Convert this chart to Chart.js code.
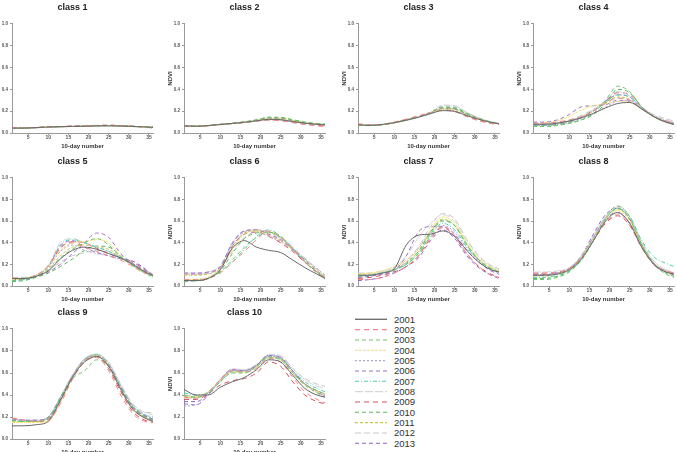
<!DOCTYPE html>
<html>
<head>
<meta charset="utf-8">
<title>NDVI profiles by class</title>
<script src="https://cdn.jsdelivr.net/npm/chart.js@4"></script>
<style>
  body { margin: 0; background: #fff; width: 677px; height: 452px; overflow: hidden; position: relative; font-family: 'Liberation Sans', Arial, sans-serif; }
  canvas.panel { position: absolute; }
  #legend { position: absolute; left: 0; top: 0; }
</style>
</head>
<body>
<svg id="legend" width="677" height="452"></svg>
<script>
// data, one row per year, values at dayPoints
const years = ['2001','2002','2003','2004','2005','2006','2007','2008','2009','2010','2011','2012','2013'];
const dayPoints = [1, 4, 7, 10, 13, 16, 19, 22, 25, 28, 31, 34, 36];
const xTicks = [5, 10, 15, 20, 25, 30, 35];
const yTicks = [0, 0.2, 0.4, 0.6, 0.8, 1.0];
const classNames = ['class 1','class 2','class 3','class 4','class 5','class 6','class 7','class 8','class 9','class 10'];

const ndviClass1 = [
  [0.045,0.045,0.050,0.055,0.058,0.060,0.062,0.065,0.066,0.064,0.060,0.056,0.052],
  [0.050,0.048,0.052,0.056,0.060,0.063,0.066,0.070,0.072,0.068,0.062,0.056,0.048],
  [0.048,0.046,0.050,0.055,0.059,0.061,0.064,0.067,0.069,0.066,0.061,0.057,0.055],
  [0.046,0.045,0.049,0.054,0.058,0.060,0.063,0.066,0.068,0.065,0.060,0.055,0.050],
  [0.044,0.044,0.048,0.053,0.057,0.060,0.062,0.064,0.065,0.063,0.059,0.055,0.051],
  [0.047,0.046,0.050,0.055,0.059,0.062,0.065,0.068,0.070,0.067,0.062,0.057,0.053],
  [0.045,0.045,0.049,0.054,0.058,0.061,0.064,0.066,0.067,0.064,0.060,0.056,0.054],
  [0.043,0.043,0.047,0.052,0.056,0.059,0.061,0.063,0.064,0.062,0.058,0.054,0.050],
  [0.049,0.047,0.051,0.055,0.059,0.062,0.065,0.069,0.071,0.067,0.061,0.055,0.045],
  [0.046,0.045,0.049,0.054,0.058,0.061,0.064,0.067,0.068,0.065,0.061,0.057,0.056],
  [0.047,0.046,0.050,0.054,0.058,0.061,0.063,0.066,0.067,0.064,0.060,0.056,0.052],
  [0.044,0.044,0.048,0.053,0.057,0.060,0.062,0.065,0.066,0.063,0.059,0.055,0.052],
  [0.046,0.045,0.049,0.054,0.058,0.061,0.064,0.067,0.069,0.066,0.061,0.056,0.051]
];
const ndviClass2 = [
  [0.065,0.062,0.068,0.078,0.088,0.098,0.112,0.125,0.122,0.105,0.090,0.080,0.075],
  [0.062,0.060,0.066,0.076,0.086,0.096,0.108,0.118,0.112,0.095,0.078,0.066,0.058],
  [0.064,0.062,0.068,0.079,0.090,0.102,0.120,0.142,0.140,0.118,0.098,0.085,0.080],
  [0.066,0.063,0.069,0.078,0.088,0.099,0.114,0.130,0.128,0.110,0.093,0.082,0.076],
  [0.063,0.061,0.067,0.077,0.087,0.097,0.110,0.120,0.118,0.103,0.089,0.080,0.076],
  [0.065,0.063,0.069,0.079,0.089,0.100,0.116,0.134,0.132,0.112,0.094,0.082,0.076],
  [0.064,0.062,0.068,0.078,0.088,0.098,0.112,0.126,0.124,0.108,0.092,0.082,0.078],
  [0.062,0.060,0.066,0.076,0.086,0.096,0.110,0.124,0.122,0.106,0.090,0.080,0.074],
  [0.063,0.061,0.067,0.077,0.087,0.097,0.110,0.122,0.116,0.098,0.082,0.070,0.062],
  [0.065,0.063,0.069,0.079,0.090,0.102,0.121,0.145,0.144,0.122,0.100,0.086,0.080],
  [0.066,0.064,0.070,0.079,0.089,0.100,0.116,0.136,0.135,0.116,0.096,0.084,0.078],
  [0.063,0.061,0.067,0.077,0.087,0.097,0.111,0.124,0.122,0.106,0.091,0.082,0.077],
  [0.064,0.062,0.068,0.078,0.088,0.099,0.114,0.130,0.128,0.110,0.093,0.081,0.074]
];
const ndviClass3 = [
  [0.075,0.070,0.078,0.095,0.118,0.145,0.178,0.205,0.198,0.160,0.125,0.098,0.085],
  [0.085,0.075,0.080,0.100,0.128,0.158,0.188,0.208,0.195,0.150,0.112,0.088,0.075],
  [0.070,0.068,0.076,0.094,0.118,0.148,0.190,0.235,0.228,0.178,0.132,0.100,0.085],
  [0.075,0.070,0.078,0.096,0.120,0.150,0.185,0.220,0.212,0.168,0.128,0.098,0.084],
  [0.072,0.069,0.077,0.094,0.116,0.142,0.175,0.210,0.205,0.165,0.126,0.098,0.085],
  [0.074,0.070,0.078,0.096,0.120,0.150,0.188,0.228,0.222,0.175,0.130,0.099,0.084],
  [0.072,0.069,0.077,0.095,0.118,0.146,0.182,0.222,0.218,0.172,0.130,0.100,0.086],
  [0.071,0.068,0.076,0.093,0.115,0.143,0.185,0.250,0.246,0.190,0.138,0.102,0.086],
  [0.080,0.073,0.080,0.098,0.124,0.154,0.186,0.212,0.200,0.155,0.115,0.090,0.078],
  [0.070,0.068,0.076,0.094,0.118,0.148,0.190,0.240,0.234,0.182,0.134,0.101,0.086],
  [0.074,0.070,0.078,0.096,0.120,0.150,0.186,0.226,0.220,0.174,0.130,0.099,0.084],
  [0.072,0.069,0.077,0.094,0.117,0.145,0.185,0.256,0.250,0.190,0.138,0.102,0.087],
  [0.073,0.070,0.078,0.095,0.119,0.148,0.186,0.225,0.218,0.172,0.129,0.099,0.084]
];
const ndviClass4 = [
  [0.08,0.08,0.09,0.11,0.14,0.18,0.23,0.27,0.28,0.22,0.15,0.10,0.08],
  [0.09,0.09,0.10,0.12,0.15,0.20,0.27,0.32,0.30,0.22,0.15,0.11,0.09],
  [0.06,0.06,0.07,0.09,0.12,0.18,0.30,0.43,0.38,0.24,0.15,0.10,0.08],
  [0.08,0.09,0.11,0.15,0.21,0.25,0.27,0.29,0.28,0.22,0.15,0.10,0.08],
  [0.07,0.07,0.08,0.10,0.13,0.18,0.24,0.29,0.30,0.23,0.16,0.11,0.09],
  [0.10,0.10,0.12,0.17,0.24,0.25,0.26,0.30,0.29,0.22,0.15,0.11,0.09],
  [0.07,0.07,0.08,0.10,0.14,0.20,0.28,0.35,0.33,0.23,0.15,0.10,0.08],
  [0.08,0.08,0.09,0.11,0.15,0.21,0.30,0.38,0.34,0.24,0.16,0.12,0.10],
  [0.07,0.07,0.08,0.10,0.14,0.20,0.29,0.37,0.35,0.24,0.15,0.10,0.08],
  [0.06,0.06,0.07,0.09,0.12,0.17,0.27,0.40,0.37,0.24,0.15,0.10,0.08],
  [0.08,0.08,0.09,0.11,0.15,0.21,0.28,0.33,0.31,0.22,0.15,0.10,0.08],
  [0.09,0.09,0.10,0.12,0.16,0.22,0.28,0.32,0.30,0.23,0.17,0.13,0.11],
  [0.08,0.08,0.09,0.11,0.15,0.21,0.29,0.35,0.33,0.23,0.15,0.10,0.08]
];
const ndviClass5 = [
  [0.07,0.07,0.09,0.14,0.25,0.33,0.36,0.34,0.30,0.26,0.20,0.13,0.10],
  [0.07,0.07,0.10,0.19,0.36,0.40,0.36,0.32,0.28,0.24,0.18,0.12,0.10],
  [0.05,0.06,0.09,0.15,0.26,0.34,0.40,0.44,0.38,0.27,0.19,0.12,0.09],
  [0.06,0.07,0.10,0.18,0.33,0.40,0.41,0.43,0.40,0.28,0.18,0.12,0.10],
  [0.06,0.07,0.10,0.17,0.32,0.38,0.33,0.30,0.28,0.25,0.21,0.15,0.11],
  [0.06,0.06,0.09,0.13,0.20,0.30,0.40,0.49,0.45,0.30,0.21,0.14,0.10],
  [0.05,0.06,0.09,0.18,0.38,0.43,0.40,0.36,0.32,0.26,0.19,0.12,0.08],
  [0.06,0.07,0.10,0.19,0.40,0.44,0.40,0.36,0.32,0.26,0.20,0.13,0.09],
  [0.07,0.07,0.10,0.18,0.35,0.41,0.40,0.35,0.30,0.26,0.22,0.15,0.10],
  [0.04,0.05,0.08,0.12,0.18,0.25,0.33,0.37,0.36,0.28,0.20,0.13,0.09],
  [0.07,0.07,0.10,0.16,0.28,0.36,0.38,0.36,0.34,0.27,0.19,0.12,0.10],
  [0.08,0.08,0.10,0.14,0.22,0.28,0.31,0.33,0.32,0.27,0.20,0.14,0.11],
  [0.06,0.07,0.10,0.18,0.37,0.42,0.36,0.31,0.28,0.25,0.23,0.16,0.10]
];
const ndviClass6 = [
  [0.05,0.05,0.07,0.15,0.35,0.42,0.36,0.33,0.31,0.24,0.17,0.11,0.07],
  [0.06,0.06,0.07,0.12,0.22,0.32,0.43,0.51,0.46,0.34,0.22,0.13,0.08],
  [0.04,0.05,0.07,0.13,0.24,0.36,0.45,0.50,0.45,0.34,0.22,0.12,0.07],
  [0.06,0.06,0.08,0.16,0.34,0.48,0.51,0.47,0.42,0.33,0.23,0.14,0.08],
  [0.05,0.06,0.08,0.17,0.40,0.50,0.51,0.46,0.41,0.34,0.25,0.16,0.10],
  [0.12,0.12,0.13,0.18,0.40,0.51,0.52,0.48,0.43,0.34,0.24,0.14,0.08],
  [0.05,0.05,0.07,0.13,0.22,0.34,0.46,0.52,0.46,0.35,0.23,0.13,0.08],
  [0.12,0.12,0.13,0.19,0.38,0.50,0.52,0.49,0.44,0.35,0.25,0.15,0.09],
  [0.05,0.05,0.07,0.16,0.37,0.48,0.50,0.46,0.40,0.32,0.22,0.13,0.07],
  [0.05,0.05,0.07,0.14,0.30,0.44,0.49,0.50,0.45,0.35,0.24,0.13,0.07],
  [0.10,0.10,0.11,0.17,0.36,0.49,0.52,0.50,0.44,0.34,0.23,0.13,0.08],
  [0.11,0.11,0.12,0.17,0.32,0.45,0.50,0.50,0.45,0.36,0.26,0.16,0.10],
  [0.11,0.11,0.12,0.18,0.39,0.51,0.52,0.47,0.42,0.33,0.23,0.14,0.08]
];
const ndviClass7 = [
  [0.10,0.10,0.12,0.16,0.38,0.47,0.48,0.51,0.46,0.33,0.22,0.15,0.13],
  [0.06,0.06,0.08,0.12,0.18,0.28,0.45,0.55,0.46,0.30,0.18,0.10,0.08],
  [0.09,0.10,0.12,0.15,0.20,0.30,0.48,0.60,0.56,0.38,0.24,0.16,0.13],
  [0.11,0.12,0.14,0.18,0.24,0.34,0.52,0.64,0.58,0.40,0.25,0.17,0.14],
  [0.09,0.10,0.12,0.15,0.22,0.35,0.50,0.56,0.50,0.35,0.23,0.15,0.12],
  [0.08,0.09,0.11,0.14,0.28,0.50,0.55,0.55,0.48,0.33,0.22,0.14,0.11],
  [0.09,0.10,0.12,0.15,0.20,0.30,0.46,0.58,0.52,0.36,0.24,0.16,0.13],
  [0.10,0.11,0.13,0.17,0.28,0.45,0.58,0.66,0.60,0.42,0.27,0.18,0.15],
  [0.07,0.08,0.10,0.13,0.18,0.28,0.44,0.54,0.46,0.30,0.18,0.11,0.08],
  [0.09,0.10,0.12,0.15,0.21,0.32,0.50,0.61,0.56,0.38,0.24,0.16,0.13],
  [0.11,0.11,0.13,0.16,0.22,0.32,0.50,0.62,0.56,0.39,0.25,0.17,0.14],
  [0.12,0.12,0.14,0.17,0.24,0.36,0.55,0.67,0.62,0.43,0.28,0.19,0.16],
  [0.05,0.06,0.08,0.12,0.18,0.26,0.42,0.52,0.44,0.28,0.17,0.10,0.07]
];
const ndviClass8 = [
  [0.10,0.10,0.11,0.15,0.25,0.42,0.60,0.68,0.58,0.36,0.20,0.13,0.11],
  [0.12,0.12,0.13,0.16,0.26,0.42,0.59,0.66,0.56,0.35,0.20,0.14,0.12],
  [0.06,0.06,0.08,0.13,0.24,0.42,0.62,0.72,0.62,0.38,0.20,0.11,0.08],
  [0.09,0.09,0.11,0.15,0.26,0.44,0.62,0.70,0.60,0.37,0.20,0.13,0.10],
  [0.11,0.11,0.12,0.16,0.27,0.44,0.61,0.68,0.58,0.37,0.21,0.14,0.12],
  [0.10,0.10,0.12,0.16,0.27,0.45,0.62,0.68,0.58,0.36,0.20,0.13,0.11],
  [0.08,0.08,0.10,0.14,0.24,0.42,0.62,0.72,0.64,0.42,0.27,0.21,0.18],
  [0.13,0.13,0.14,0.17,0.28,0.46,0.64,0.73,0.64,0.40,0.23,0.15,0.12],
  [0.11,0.11,0.12,0.16,0.26,0.42,0.58,0.65,0.56,0.36,0.20,0.14,0.12],
  [0.07,0.07,0.09,0.14,0.25,0.44,0.64,0.74,0.64,0.39,0.21,0.12,0.09],
  [0.10,0.10,0.12,0.16,0.27,0.45,0.63,0.71,0.62,0.38,0.21,0.13,0.10],
  [0.12,0.12,0.13,0.17,0.28,0.46,0.64,0.74,0.65,0.41,0.23,0.15,0.13],
  [0.10,0.10,0.12,0.16,0.28,0.48,0.66,0.72,0.62,0.38,0.21,0.13,0.10]
];
const ndviClass9 = [
  [0.12,0.12,0.13,0.16,0.35,0.56,0.70,0.75,0.66,0.45,0.27,0.19,0.16],
  [0.19,0.17,0.16,0.17,0.32,0.54,0.70,0.74,0.62,0.40,0.23,0.16,0.15],
  [0.17,0.16,0.16,0.19,0.38,0.55,0.62,0.72,0.66,0.46,0.28,0.20,0.17],
  [0.15,0.15,0.15,0.16,0.33,0.56,0.71,0.76,0.66,0.45,0.27,0.19,0.16],
  [0.18,0.17,0.17,0.20,0.38,0.58,0.72,0.76,0.68,0.48,0.30,0.22,0.20],
  [0.18,0.17,0.17,0.20,0.37,0.57,0.72,0.76,0.67,0.47,0.29,0.21,0.18],
  [0.17,0.16,0.16,0.19,0.36,0.57,0.72,0.77,0.68,0.48,0.30,0.22,0.19],
  [0.18,0.17,0.17,0.20,0.38,0.58,0.73,0.77,0.70,0.50,0.32,0.24,0.22],
  [0.19,0.17,0.16,0.18,0.34,0.55,0.71,0.75,0.64,0.43,0.25,0.17,0.15],
  [0.17,0.16,0.16,0.19,0.37,0.57,0.72,0.76,0.67,0.47,0.29,0.21,0.18],
  [0.16,0.16,0.16,0.18,0.35,0.56,0.72,0.76,0.67,0.46,0.28,0.20,0.17],
  [0.18,0.17,0.17,0.20,0.38,0.58,0.73,0.77,0.69,0.49,0.31,0.24,0.24],
  [0.18,0.17,0.17,0.19,0.36,0.56,0.71,0.76,0.67,0.46,0.28,0.20,0.17]
];
const ndviClass10 = [
  [0.45,0.40,0.40,0.47,0.52,0.56,0.63,0.72,0.70,0.58,0.46,0.40,0.38],
  [0.38,0.37,0.43,0.54,0.62,0.61,0.64,0.73,0.70,0.56,0.43,0.36,0.33],
  [0.40,0.38,0.42,0.52,0.60,0.60,0.66,0.74,0.72,0.60,0.50,0.44,0.41],
  [0.38,0.38,0.43,0.53,0.61,0.61,0.65,0.74,0.72,0.60,0.49,0.43,0.40],
  [0.30,0.31,0.40,0.53,0.62,0.62,0.66,0.75,0.73,0.61,0.50,0.44,0.40],
  [0.32,0.31,0.40,0.54,0.63,0.62,0.67,0.76,0.74,0.62,0.50,0.43,0.39],
  [0.42,0.40,0.42,0.52,0.61,0.61,0.65,0.74,0.73,0.62,0.52,0.46,0.43],
  [0.37,0.37,0.42,0.54,0.64,0.63,0.68,0.77,0.76,0.64,0.54,0.48,0.46],
  [0.36,0.36,0.41,0.49,0.53,0.55,0.60,0.70,0.66,0.52,0.40,0.34,0.32],
  [0.38,0.38,0.42,0.53,0.62,0.62,0.67,0.75,0.73,0.60,0.49,0.42,0.38],
  [0.39,0.38,0.42,0.53,0.61,0.61,0.66,0.74,0.72,0.60,0.50,0.44,0.41],
  [0.40,0.39,0.43,0.54,0.63,0.63,0.67,0.76,0.75,0.64,0.55,0.50,0.48],
  [0.34,0.34,0.41,0.54,0.63,0.62,0.67,0.76,0.74,0.62,0.50,0.43,0.39]
];
const allClasses = [ndviClass1, ndviClass2, ndviClass3, ndviClass4, ndviClass5,
                    ndviClass6, ndviClass7, ndviClass8, ndviClass9, ndviClass10];

// line styles per year (R-ish palette)
const colours = ['#666666','#f08a8a','#6cc36c','#eee080','#a8a8cc','#a070c8','#4ccfb0',
                 '#d6d6d6','#d05060','#58b85c','#c8c850','#c8c8c8','#9060c8'];
const dashes = [[], [5,4], [4,3], [3,1], [2,2], [4,3], [4,2,1,2], [8,2], [5,4], [4,3], [3,2], [6,3], [4,3]];

// panel geometry: plot area left (x = 1) and top (y = 1.0)
const colLeft = [12, 184, 358, 533];
const rowTop = [24, 178, 329];
const rowHeight = [109, 108, 109.5];
const PLOT_W = 141, AXIS_W = 20, PAD_R = 4, TITLE_H = 24, XAXIS_H = 20;

Chart.defaults.font.family = "'Liberation Sans', Arial, sans-serif";
const axisGrey = '#9a9a9a';

function makePanel(idx, rows) {
  const col = idx % 4, row = Math.floor(idx / 4);
  const cv = document.createElement('canvas');
  cv.className = 'panel';
  cv.width = AXIS_W + PLOT_W + PAD_R;
  cv.height = Math.round(TITLE_H + rowHeight[row] + XAXIS_H);
  cv.style.left = (colLeft[col] - AXIS_W) + 'px';
  cv.style.top = (rowTop[row] - TITLE_H) + 'px';
  document.body.appendChild(cv);

  new Chart(cv, {
    type: 'line',
    data: {
      datasets: rows.map((vals, i) => ({
        label: years[i],
        data: dayPoints.map((d, j) => ({ x: d, y: vals[j] })),
        borderColor: colours[i],
        borderDash: dashes[i],
        borderWidth: 1,
        pointRadius: 0,
        cubicInterpolationMode: 'monotone',
        fill: false
      }))
    },
    options: {
      responsive: false,
      animation: false,
      events: [],
      layout: { padding: { left: 0, right: PAD_R, top: 0, bottom: 0 } },
      plugins: {
        legend: { display: false },
        tooltip: { enabled: false },
        title: {
          display: true, text: classNames[idx], color: '#222',
          font: { size: 9, weight: 'bold' },
          padding: { top: 2.6, bottom: TITLE_H - 2.6 - 10.8 }
        }
      },
      scales: {
        x: {
          type: 'linear', min: 1, max: 36,
          afterBuildTicks: s => { s.ticks = xTicks.map(v => ({ value: v })); },
          afterFit: s => { s.height = XAXIS_H; },
          ticks: { font: { size: 5, weight: 'bold' }, color: '#555', padding: 0, maxRotation: 0, autoSkip: false },
          grid: { drawOnChartArea: false, drawTicks: true, tickLength: 2, color: axisGrey },
          border: { display: true, color: axisGrey },
          title: { display: true, text: '10-day number', color: '#333', font: { size: 6, weight: 'bold' }, padding: { top: 0, bottom: 3.4 } }
        },
        y: {
          min: 0, max: 1,
          afterBuildTicks: s => { s.ticks = yTicks.map(v => ({ value: v })); },
          afterFit: s => { s.width = AXIS_W; },
          ticks: { font: { size: 4.5, weight: 'bold' }, color: '#555', padding: 2, callback: v => v.toFixed(1) },
          grid: { drawOnChartArea: false, drawTicks: true, tickLength: 2, color: axisGrey },
          border: { display: true, color: axisGrey },
          title: { display: col > 0, text: 'NDVI', color: '#333', font: { size: 6, weight: 'bold' }, padding: { top: 2.9, bottom: 0 } }
        }
      }
    }
  });
}

allClasses.forEach((rows, i) => makePanel(i, rows));

// legend: year lines with their dash pattern
const svg = document.getElementById('legend');
const NS = 'http://www.w3.org/2000/svg';
years.forEach((yr, i) => {
  const y = 319.3 + i * 10.33;
  const line = document.createElementNS(NS, 'line');
  line.setAttribute('x1', 355); line.setAttribute('x2', 387);
  line.setAttribute('y1', y); line.setAttribute('y2', y);
  line.setAttribute('stroke', colours[i]);
  line.setAttribute('stroke-width', i === 0 ? 1.3 : 1.1);
  if (dashes[i].length) line.setAttribute('stroke-dasharray', dashes[i].join(' '));
  svg.appendChild(line);
  const txt = document.createElementNS(NS, 'text');
  txt.setAttribute('x', 394); txt.setAttribute('y', y + 3.3);
  txt.setAttribute('font-family', "'Liberation Sans Narrow', 'Liberation Sans', Arial, sans-serif");
  txt.setAttribute('font-size', 9.5);
  txt.setAttribute('fill', '#333');
  txt.textContent = yr;
  svg.appendChild(txt);
});
</script>
</body>
</html>
